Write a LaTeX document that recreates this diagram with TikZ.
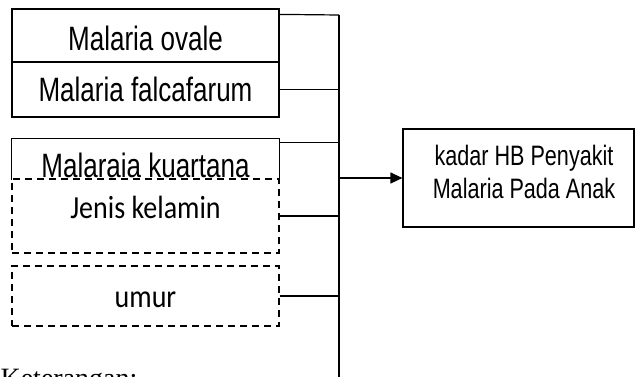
\documentclass[tikz,border=0pt]{standalone}
\usepackage{fontspec}
\usepackage{graphicx}
\usetikzlibrary{arrows.meta}
\newfontfamily\arialf{Liberation Sans}
\newfontfamily\calf{Carlito}
\newfontfamily\timesf{Liberation Serif}
\tikzset{
  box/.style={draw, inner sep=0pt, minimum width=267pt},
  dbox/.style={draw, dash pattern=on 7pt off 5pt, inner sep=0pt, minimum width=267pt},
  lblA/.style={inner sep=0pt, anchor=base, font=\fontsize{26}{26}\selectfont\arialf},
  lblC/.style={inner sep=0pt, anchor=base, font=\fontsize{28}{28}\selectfont\calf},
  lblT/.style={inner sep=0pt, anchor=base, font=\fontsize{21.6}{21.6}\selectfont\arialf},
}
\begin{document}
\begin{tikzpicture}[x=1pt,y=-1pt,line width=1.2pt]
\useasboundingbox (0,0) rectangle (637,377);
% boxes
\node[box, minimum height=53pt] (ovale) at (145.5,35.5) {};
\node[box, minimum height=55pt] (falc) at (145.5,89.5) {};
\node[inner sep=0pt, minimum width=267pt, minimum height=40pt] (kuart) at (145.5,159) {};
\draw (kuart.south west) -- (kuart.north west) -- (kuart.north east) -- (kuart.south east);
\node[dbox, minimum height=74pt] (jenis) at (145.5,216) {};
\node[dbox, minimum height=60pt] (umur) at (145.5,296) {};
\node[box, minimum width=231pt, minimum height=98pt] (target) at (518.5,178) {};
% texts
\node[lblA] (t1) at (145.5,51) {\scalebox{1}[1.3]{Malaria ovale}};
\node[lblA] (t2) at (145.5,102) {\scalebox{1}[1.3]{Malaria falcafarum}};
\node[lblA] (t3) at (145.5,177) {\scalebox{1}[1.3]{Malaraia kuartana}};
\node[lblC] (t4) at (145.5,218) {\scalebox{1}[1.15]{Jenis kelamin}};
\node[lblC] (t5) at (145.5,307) {\scalebox{1}[1.15]{umur}};
\node[lblT] (t6) at (524,165.5) {\scalebox{1}[1.3]{kadar HB Penyakit}};
\node[lblT] (t7) at (524,198) {\scalebox{1}[1.3]{Malaria Pada Anak}};
\node[inner sep=0pt, anchor=base west, font=\fontsize{28}{28}\selectfont\timesf] (ket) at (0,387) {Keterangan:};
% bus
\coordinate (bt) at (339,15);
\coordinate (bb) at (339,380);
\draw (bt) -- (bb);
\draw ([yshift=-6pt]ovale.north east) -- (bt);
\draw (falc.east) -- (falc.east -| bt);
\draw ([yshift=-4pt]kuart.north east) coordinate (k1) -- (k1 -| bt);
\draw (jenis.east) -- (jenis.east -| bt);
\draw (umur.east) -- (umur.east -| bt);
\draw[-{Triangle[length=12pt,width=11pt]}] (target.west -| bt) -- (target.west);
\end{tikzpicture}
\end{document}
